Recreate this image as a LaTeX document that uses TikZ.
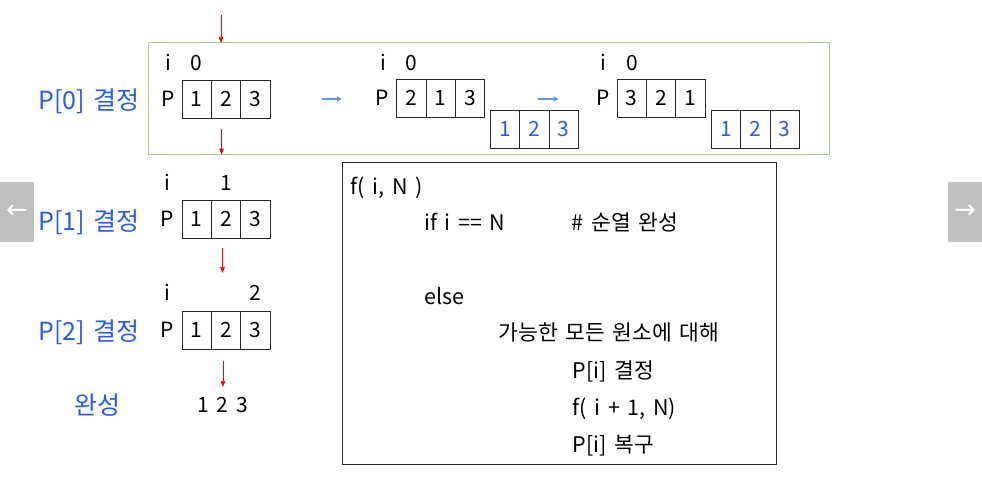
\documentclass[tikz,border=0pt]{standalone}
\usepackage{fontspec}
\setmainfont[WordSpace=1.6]{Noto Sans CJK KR}
\newfontfamily\symfont{DejaVu Sans}
\usetikzlibrary{positioning,arrows.meta}

\definecolor{labblue}{RGB}{40,90,235}
\definecolor{arrblue}{RGB}{91,155,213}
\definecolor{boxgreen}{RGB}{169,209,142}
\definecolor{btngray}{RGB}{191,191,191}

\tikzstyle{txt}=[inner sep=0pt,
                 text height=15.3pt,
                 text depth=0pt,
                 font=\fontsize{21}{25}\selectfont]
\tikzstyle{cell}=[shape=rectangle,
                  draw=black!85,
                  line width=0.8pt,
                  minimum width=29.3pt,
                  minimum height=38pt,
                  inner sep=0pt,
                  outer sep=0pt,
                  font=\fontsize{21}{25}\selectfont]
\tikzstyle{bcell}=[cell, text=labblue]
\tikzstyle{lab}=[txt, text=labblue, text height=18.3pt, font=\fontsize{25}{29}\selectfont]
\tikzstyle{code}=[txt, anchor=west, font=\fontsize{21.5}{25}\selectfont]
\tikzstyle{down}=[draw=red, line width=0.7pt, -{Triangle[length=6pt,width=4.5pt]}]
\tikzstyle{bluearr}=[draw=arrblue, line width=1.2pt, -{Triangle[length=5pt,width=5pt]}]
\tikzstyle{btn}=[shape=rectangle,
                 fill=btngray,
                 minimum width=34pt,
                 minimum height=60pt,
                 inner sep=0pt,
                 text=white,
                 font=\symfont\fontsize{26}{26}\selectfont]

% three cells in a row: name, x, y, first, second, third, style
\newcommand{\cellrow}[7]{%
  \node[#7] (#1a) at (#2,#3) {#4};
  \node[#7, right=0pt of #1a] (#1b) {#5};
  \node[#7, right=0pt of #1b] (#1c) {#6};
}

\begin{document}
\begin{tikzpicture}[x=1pt,y=-1pt]
\useasboundingbox (0,0) rectangle (982,487);

% side buttons
\node[btn] (prev) at (17,211.5) {←};
\node[btn] (next) at (965,211.5) {→};

% frame of the first step
\node[shape=rectangle, draw=boxgreen, line width=1pt, inner sep=0pt, outer sep=0pt,
      minimum width=681pt, minimum height=111.5pt] (frame) at (488.5,98.75) {};

% row labels
\node[lab] (l0) at (89,100) {P[0] 결정};
\node[lab] (l1) at (89,221) {P[1] 결정};
\node[lab] (l2) at (89,331) {P[2] 결정};
\node[lab] (l3) at (97,405) {완성};

% P[0]
\node[txt] (i0) at (168,63) {i};
\node[txt] (v0) at (196.7,63) {0};
\node[txt] (p0) at (168,99) {P};
\cellrow{a}{196.7}{99}{1}{2}{3}{cell}

\node[txt] (i0b) at (383,63) {i};
\node[txt] (v0b) at (411,63) {0};
\node[txt] (p0b) at (382,98) {P};
\cellrow{b}{411.4}{98}{2}{1}{3}{cell}
\cellrow{bs}{505.2}{129}{1}{2}{3}{bcell}

\node[txt] (i0c) at (603,63) {i};
\node[txt] (v0c) at (632,63) {0};
\node[txt] (p0c) at (603,98) {P};
\cellrow{c}{631.8}{98}{3}{2}{1}{cell}
\cellrow{cs}{726.2}{129}{1}{2}{3}{bcell}

% P[1]
\node[txt] (i1) at (167,183) {i};
\node[txt] (v1) at (226,183) {1};
\node[txt] (p1) at (167,219) {P};
\cellrow{d}{196.7}{219}{1}{2}{3}{cell}

% P[2]
\node[txt] (i2) at (167,293) {i};
\node[txt] (v2) at (255.3,293) {2};
\node[txt] (p2) at (167,330) {P};
\cellrow{e}{196.7}{330}{1}{2}{3}{cell}

% result
\node[txt] (res) at (222.7,405) {1 2 3};

% arrows
\coordinate (r0) at (221,15);
\coordinate (r1) at (221.5,129);
\coordinate (r2) at (222.5,248);
\coordinate (r2e) at (222.5,273);
\coordinate (r3) at (223,361);
\coordinate (r3e) at (223,387);
\draw[down] (r0) -- (r0 |- frame.north);
\draw[down] (r1) -- (r1 |- frame.south);
\draw[down] (r2) -- (r2e);
\draw[down] (r3) -- (r3e);

\coordinate (s1) at (322,99);
\coordinate (s1e) at (342,99);
\coordinate (s2) at (538,99);
\coordinate (s2e) at (558.5,99);
\draw[bluearr] (s1) -- (s1e);
\draw[bluearr] (s2) -- (s2e);

% pseudo code
\node[shape=rectangle, draw=black!85, line width=0.9pt, inner sep=0pt,
      minimum width=433.3pt, minimum height=301.3pt] (codebox) at (559.35,313.35) {};
\node[code] (k1) at (350.7,187) {f( i, N )};
\node[code] (k2) at (424,223) {if i == N};
\node[code] (k3) at (571.7,223) {\# 순열 완성};
\node[code] (k4) at (424,297) {else};
\node[code] (k5) at (498.3,333) {가능한 모든 원소에 대해};
\node[code] (k6) at (572.3,371) {P[i] 결정};
\node[code] (k7) at (572.3,408) {f( i + 1, N)};
\node[code] (k8) at (572.3,445) {P[i] 복구};

\end{tikzpicture}
\end{document}
